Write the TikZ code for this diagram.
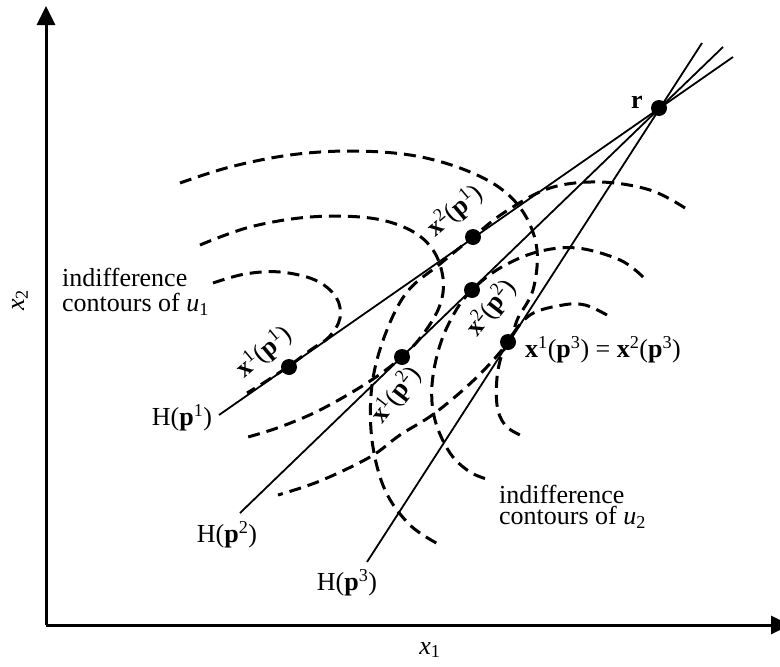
\documentclass[tikz,border=0pt]{standalone}
\usepackage{fontspec}
\setmainfont{Liberation Serif}
\usetikzlibrary{arrows.meta}
\newcommand{\xpl}[2]{\textbf{x}\textsuperscript{#1}(\textbf{p}\textsuperscript{#2})}
\newcommand{\hpl}[1]{H(\textbf{p}\textsuperscript{#1})}
\begin{document}
\begin{tikzpicture}[x=1pt,y=-1pt,
  axis/.style={line width=3pt,-{Triangle[length=19pt,width=18pt]}},
  budget/.style={line width=1.8pt},
  contour/.style={line width=3pt,dash pattern=on 12pt off 7pt},
  dot/.style={circle,fill=black,inner sep=0pt,minimum size=16pt},
  lab/.style={font=\fontsize{26}{25}\selectfont,inner sep=0pt},
]
\useasboundingbox (0,0) rectangle (780,667);
\clip (0,0) rectangle (780,667);
% axes
\coordinate (o) at (46,625);
\coordinate (ytop) at (46,6);
\coordinate (xend) at (790,625);
\draw[axis] (o) -- (ytop);
\draw[axis] (o) -- (xend);
\node[lab] (xlab) at (430,650) {\textit{x}\textsubscript{1}};
\node[lab,rotate=90] (ylab) at (20,300) {\textit{x}\textsubscript{2}};
% contours of u1
\draw[contour] plot[smooth,tension=0.6] coordinates {(213,283) (245,274) (280,272) (315,280) (336,297) (340,318) (329,337) (312,349) (289,366) (265,382) (247,393)};
\draw[contour] plot[smooth,tension=0.6] coordinates {(200,245) (250,227) (310,217) (370,218) (410,230) (433,250) (443,278) (440,305) (424,333) (402,357) (367,383) (320,410) (280,427) (248,437)};
\draw[contour] plot[smooth,tension=0.6] coordinates {(180,183) (230,167) (290,155) (350,151) (410,155) (460,168) (500,188) (525,215) (537,250) (533,290) (518,318) (508,342) (476,378) (435,413) (400,435) (370,457) (320,481) (278,495)};
% contours of u2
\draw[contour] plot[smooth,tension=0.6] coordinates {(685,208) (650,190) (600,182) (550,188) (505,212) (473,237) (440,264) (407,292) (385,335) (372,385) (372,440) (385,490) (410,525) (440,545)};
\draw[contour] plot[smooth,tension=0.6] coordinates {(643,277) (620,260) (577,248) (537,252) (500,268) (472,290) (455,312) (440,345) (432,385) (435,420) (450,453) (470,472) (490,480)};
\draw[contour] plot[smooth,tension=0.6] coordinates {(607,315) (585,305) (563,305) (530,315) (508,342) (498,370) (497,405) (505,425) (520,435)};
% budget lines
\coordinate (h1a) at (219,415); \coordinate (h1b) at (733,57);
\coordinate (h2a) at (240,513); \coordinate (h2b) at (723,47);
\coordinate (h3a) at (367,562); \coordinate (h3b) at (702,43);
\draw[budget] (h1a) -- (h1b);
\draw[budget] (h2a) -- (h2b);
\draw[budget] (h3a) -- (h3b);
% dots
\node[dot] (r) at (659,108) {};
\node[dot] (x11) at (289,367) {};
\node[dot] (x21) at (473,237) {};
\node[dot] (x12) at (402,357) {};
\node[dot] (x22) at (472,290) {};
\node[dot] (x13) at (508,342) {};
% labels
\node[lab] (rlab) at (637,102) {\textbf{r}};
\node[lab,rotate=40] (l11) at (264,352) {\xpl{1}{1}};
\node[lab,rotate=40] (l21) at (455,211) {\xpl{2}{1}};
\node[lab,rotate=52] (l12) at (396,395) {\xpl{1}{2}};
\node[lab,rotate=52] (l22) at (491,308) {\xpl{2}{2}};
\node[lab,anchor=west] (l13) at (525,350) {\xpl{1}{3} = \xpl{2}{3}};
\node[lab] (H1) at (182,418) {\hpl{1}};
\node[lab] (H2) at (227,535) {\hpl{2}};
\node[lab] (H3) at (347,583) {\hpl{3}};
\node[lab,anchor=north west,align=left] (u1lab) at (62,268) {indifference\\contours of \textit{u}\textsubscript{1}};
\node[lab,anchor=north west,align=left,font=\fontsize{26}{21}\selectfont] (u2lab) at (499,485) {indifference\\contours of \textit{u}\textsubscript{2}};
\end{tikzpicture}
\end{document}
